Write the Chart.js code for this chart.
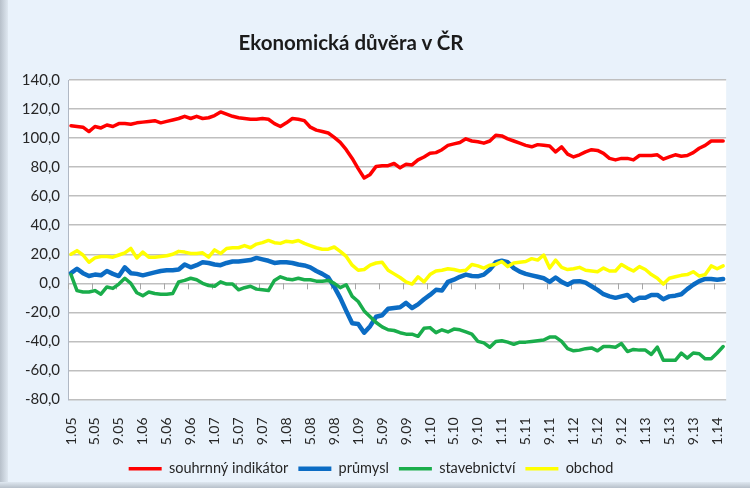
<!DOCTYPE html>
<html>
<head>
<meta charset="utf-8">
<script src="https://cdn.jsdelivr.net/npm/chart.js@4.4.1/dist/chart.umd.min.js"></script>
<style>
html,body{margin:0;padding:0;background:#e9f2fb;}
#wrap{position:relative;width:750px;height:488px;background:#e9f2fb;overflow:hidden;}
#edge{position:absolute;left:0;top:0;width:8px;height:488px;background:linear-gradient(to right,#b7c0ca,#dfe8f1);}
#spodek{position:absolute;left:0;bottom:0;width:750px;height:6px;background:linear-gradient(#dfe8f1,#b7c0ca);}
#titulek{position:absolute;top:30px;left:0;width:702px;text-align:center;font:bold 20.5px Lato,sans-serif;color:#1b1b1b;}
canvas{position:absolute;left:0;top:0;}
</style>
</head>
<body>
<div id="wrap">
  <div id="edge"></div>
  <div id="spodek"></div>
  <canvas id="graf" width="750" height="488"></canvas>
  <div id="titulek">Ekonomická důvěra v ČR</div>
</div>
<script>
// popisky osy x (kazdy 4. mesic)
const popiskyX = ['1.05','5.05','9.05','1.06','5.06','9.06','1.07','5.07','9.07','1.08','5.08','9.08',
  '1.09','5.09','9.09','1.10','5.10','9.10','1.11','5.11','9.11','1.12','5.12','9.12','1.13','5.13','9.13','1.14'];

// mesice 1.05 .. 2.14
const mesice = [];
for (let r = 5; r <= 14; r++) {
    for (let m = 1; m <= 12; m++) {
        if (r == 14 && m > 2) break;
        mesice.push(m + '.' + String(r).padStart(2, '0'));
    }
}

const souhrnny = [108.5,108,107.5,104.5,108,107,109,108,110,110,109.5,110.5,
  111,111.5,112,110.5,111.5,112.5,113.5,115,113.5,115,113.5,114,
  115.5,118,116.5,115,114,113.5,113,113,113.5,113,110,108,
  110.5,113.5,113,112,107.5,105.5,104.5,103.5,100.5,97,92,86,
  79,72.5,75,80.5,81,81,82.5,79.5,82,81.5,85,87,
  89.5,90,92,95,96,97,99.5,98,97.5,96.5,98,102,
  101.5,99.5,98,96.5,95,94,95.5,95,94.5,90.5,94,89,
  87,88.5,90.5,92,91.5,89.5,86,85,86,86,85,88,
  88,88,88.5,85.5,87,88.5,87.5,88,90,93,95,98,
  98,98];

const prumysl = [7,10,7,5,6,5.5,8.5,6.5,5,11,7,6.5,
  5.5,6.5,7.5,8.5,9,9,9.5,13,11,12.5,14.5,14,
  13,12.5,14,15,15,15.5,16,17.5,16.5,15.5,14,14.5,
  14.5,14,13,12.3,11,8.5,6.5,4,-2.5,-10,-19,-27.5,
  -28,-34,-29.5,-23,-22,-17.5,-17,-16.5,-13.5,-17,-14.5,-11,
  -8,-4.5,-5,1,2.5,4.5,6,5,4.8,6,9.5,14.5,
  15.5,14.5,10.5,8,6.5,5.5,4.5,3.5,1,4,1,-1,
  1.3,1.5,0.5,-2,-4.5,-7.5,-9,-10,-9,-8,-12,-10,
  -10,-8,-8,-11,-9,-8.5,-7.5,-4,-1,1.5,3,3,
  2.5,3];

const stavebnictvi = [6,-5,-6,-6,-5,-7.5,-2.5,-3.5,-0.5,3.5,0,-6.5,
  -8.5,-6,-7,-7.5,-7.5,-7,1,2,3.5,2.5,0,-1.5,
  -2,1,-0.5,-0.5,-4.5,-3,-2,-4,-4.5,-5,2,4.5,
  3,2.5,3.5,2.5,2.5,1.5,1.5,2,0,-3,-1,-9,
  -12.5,-19,-23,-27,-30,-32,-32.5,-34,-35,-35,-36.5,-31,
  -30.5,-34,-32,-33.5,-31.5,-32,-33.5,-35,-40,-41,-44,-40,
  -39.5,-40.5,-42,-40.5,-40.5,-40,-39.5,-39,-37,-37,-40,-45,
  -46.5,-46,-45,-44.5,-46.5,-43.5,-43.5,-44,-41.5,-47,-45.5,-46,
  -46,-49,-44,-53,-53,-53,-48,-51.5,-48,-48.5,-52,-52,
  -48,-43.5];

const obchod = [20,22.5,19.5,14.5,17.5,18.5,18.5,18,19.5,21,24,17.5,
  21.5,18,18,18.5,19,20,22,21.5,20.5,20.5,21,18,
  23,20.5,24,24.5,24.5,26,24.5,27,28,29.5,28,27.5,
  29,28.5,29.5,27.5,26,24.5,23.5,23.5,25,22,18.5,12.5,
  9,9.5,12.5,14,14.5,9,6.5,4,1,-0.5,4.5,1,
  6,8.5,9,10,9.5,8.5,9,13,12,10.5,12.5,13,
  15,11.5,14,14.5,15,17,16,19.5,10.5,16,11,9.5,
  10,11,9,8.5,8,10.5,8.5,8.5,13,10.5,8.5,11.5,
  9.5,6,3.5,-0.5,3.5,4.5,5.5,6,8,5,6,12,
  10,12];

const pismo = 'Lato, sans-serif';

// bile pozadi plochy grafu
const plocha = {
    id: 'plocha',
    beforeDraw(chart) {
        const a = chart.chartArea;
        chart.ctx.save();
        chart.ctx.fillStyle = '#ffffff';
        chart.ctx.fillRect(a.left, a.top, a.right - a.left, a.bottom - a.top);
        chart.ctx.restore();
    }
};

// znacky na ose x u nuly
const znacky = {
    id: 'znacky',
    beforeDatasetsDraw(chart) {
        const x = chart.scales.x, y = chart.scales.y;
        const y0 = y.getPixelForValue(0);
        const krok = x.getPixelForValue(1) - x.getPixelForValue(0);
        const ctx = chart.ctx;
        ctx.save();
        ctx.strokeStyle = '#a6a6a6';
        ctx.lineWidth = 1;
        for (let i = 0; i < mesice.length; i += 4) {
            const px = Math.round(x.getPixelForValue(i) - krok / 2) + 0.5;
            ctx.beginPath();
            ctx.moveTo(px, y0);
            ctx.lineTo(px, y0 + 6);
            ctx.stroke();
        }
        ctx.restore();
    }
};

const data = {
    labels: mesice,
    datasets: [{
        label: 'souhrnný indikátor',
        data: souhrnny,
        borderColor: '#ff0000',
        backgroundColor: '#ff0000',
        borderWidth: 3.5,
        order: 4
    }, {
        label: 'průmysl',
        data: prumysl,
        borderColor: '#0b6cc4',
        backgroundColor: '#0b6cc4',
        borderWidth: 4.5,
        order: 3
    }, {
        label: 'stavebnictví',
        data: stavebnictvi,
        borderColor: '#1aad4b',
        backgroundColor: '#1aad4b',
        borderWidth: 3.5,
        order: 2
    }, {
        label: 'obchod',
        data: obchod,
        borderColor: '#ffff00',
        backgroundColor: '#ffff00',
        borderWidth: 3.5,
        order: 1
    }]
};

const config = {
    type: 'line',
    data,
    options: {
        responsive: false,
        animation: false,
        layout: { padding: { left: 0, right: 8, top: 80, bottom: 2 } },
        elements: {
            point: { radius: 0 },
            line: { tension: 0, borderJoinStyle: 'round', borderCapStyle: 'round' }
        },
        plugins: {
            tooltip: { enabled: false },
            title: { display: false },
            legend: {
                position: 'bottom',
                labels: {
                    usePointStyle: true,
                    pointStyle: 'line',
                    pointStyleWidth: 33,
                    padding: 10,
                    color: '#262626',
                    font: { family: pismo, size: 14.5 },
                    sort: (a, b) => a.datasetIndex - b.datasetIndex
                }
            }
        },
        scales: {
            x: {
                offset: true,
                grid: { display: false },
                border: { display: false },
                ticks: {
                    autoSkip: false,
                    minRotation: 90,
                    maxRotation: 90,
                    padding: 10,
                    color: '#262626',
                    font: { family: pismo, size: 14 },
                    callback: function (v, i) {
                        return i % 4 == 0 ? popiskyX[i / 4] : '';
                    }
                },
                afterFit: s => { s.height = 52; }
            },
            y: {
                min: -80,
                max: 140,
                ticks: {
                    stepSize: 20,
                    padding: 8,
                    color: '#262626',
                    font: { family: pismo, size: 15 },
                    callback: v => v.toFixed(1).replace('.', ',')
                },
                grid: { color: '#bfbfbf', lineWidth: 1.5, drawTicks: false },
                border: { display: true, color: '#b0b8c4', width: 1 },
                afterFit: s => { s.width = 68; }
            }
        }
    },
    plugins: [plocha, znacky]
};

new Chart(document.getElementById('graf'), config);
</script>
</body>
</html>
